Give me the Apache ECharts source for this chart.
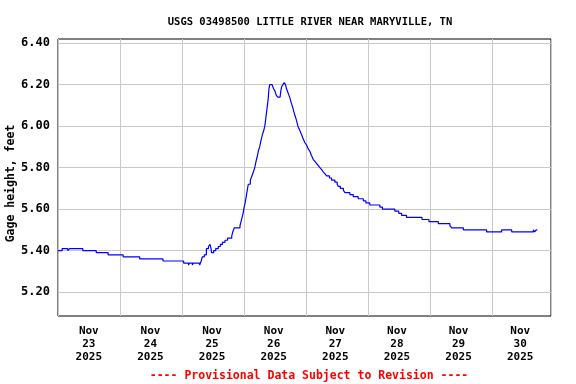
<!DOCTYPE html>
<html>
<head>
<meta charset="utf-8">
<script src="https://cdn.jsdelivr.net/npm/echarts@6/dist/echarts.min.js"></script>
<style>html,body{margin:0;padding:0;background:#fff}#c{width:576px;height:384px}</style>
</head>
<body>
<div id="c"></div>
<script>
// Hours since Nov 23 2025 00:00, and gage height (feet)
const hours = [0,1.6,3.8,4.5,9.6,14.8,19.4,25.2,31.6,40.6,48.6,50.5,50.8,52,52.3,54.8,55.4,55.8,56.6,57.4,58.2,58.8,59.2,59.4,60.2,61.0,62.0,62.8,63.6,64.6,65.6,67.2,67.6,68.2,70.4,70.8,71.2,71.6,72.0,72.4,72.8,73.2,73.6,74.4,75.0,75.6,76.1,76.6,77.0,77.5,78.0,78.5,79.1,79.6,80.0,80.4,80.7,81.0,81.3,81.6,81.9,82.8,83.4,83.9,84.4,85.0,85.9,86.2,86.5,87.0,87.5,88.0,88.4,89.0,89.6,90.3,90.8,91.2,91.7,92.2,92.8,93.5,94.2,94.8,95.5,96.1,96.8,97.4,98.0,98.7,99.4,100.0,100.7,101.3,102.0,102.6,103.3,103.9,105.0,105.8,107.1,108.0,108.4,109.2,110.4,111.0,112.9,114.2,116.1,118.1,119.1,120.6,124.5,125.5,130.3,131.8,132.9,134.8,140.8,143.5,147.1,151.6,152.3,156.8,165.8,171.6,175.5,183.9,184.4,185.0,185.4];
const gage = [5.40,5.41,5.40,5.41,5.40,5.39,5.38,5.37,5.36,5.35,5.34,5.33,5.34,5.33,5.34,5.33,5.35,5.37,5.38,5.41,5.42,5.43,5.41,5.39,5.40,5.41,5.42,5.43,5.44,5.45,5.46,5.47,5.49,5.51,5.52,5.54,5.56,5.58,5.61,5.63,5.66,5.69,5.72,5.74,5.76,5.78,5.80,5.83,5.85,5.88,5.90,5.93,5.96,5.98,6.00,6.04,6.07,6.10,6.13,6.18,6.20,6.20,6.18,6.17,6.15,6.14,6.14,6.17,6.19,6.20,6.21,6.20,6.18,6.16,6.14,6.11,6.09,6.07,6.05,6.03,6.00,5.98,5.96,5.94,5.92,5.91,5.89,5.88,5.86,5.84,5.83,5.82,5.81,5.80,5.79,5.78,5.77,5.76,5.75,5.74,5.73,5.72,5.71,5.70,5.69,5.68,5.67,5.66,5.65,5.64,5.63,5.62,5.61,5.60,5.59,5.58,5.57,5.56,5.55,5.54,5.53,5.52,5.51,5.50,5.49,5.50,5.49,5.50,5.49,5.50,5.50];
const dayLabels = ["Nov\n23\n2025","Nov\n24\n2025","Nov\n25\n2025","Nov\n26\n2025","Nov\n27\n2025","Nov\n28\n2025","Nov\n29\n2025","Nov\n30\n2025"];
const yTicks = [5.20,5.40,5.60,5.80,6.00,6.20,6.40];

const FONT = 'DejaVu Sans Mono';
const data = hours.map((h, i) => [h, gage[i]]);
const chart = echarts.init(document.getElementById('c'), null, {renderer: 'canvas'});
chart.setOption({
  animation: false,
  backgroundColor: '#fff',
  title: [
    {text: 'USGS 03498500 LITTLE RIVER NEAR MARYVILLE, TN', left: 305, top: 12, textAlign: 'center',
     textStyle: {fontFamily: FONT, fontWeight: 'bold', fontSize: 10.5, color: '#000'}},
    {text: '---- Provisional Data Subject to Revision ----', left: 304, top: 365, textAlign: 'center',
     textStyle: {fontFamily: FONT, fontWeight: 'bold', fontSize: 11.5, color: '#ff0000'}}
  ],
  grid: {left: 58, right: 25, top: 39, bottom: 68, show: true, borderColor: '#000', borderWidth: 1,
         containLabel: false, outerBoundsMode: 'none'},
  xAxis: [
    {type: 'value', min: 0, max: 190.7, interval: 24,
     axisLine: {show: false}, axisTick: {show: false}, axisLabel: {show: false},
     splitLine: {show: true, lineStyle: {color: '#c8c8c8', width: 1}}},
    {type: 'category', data: dayLabels, boundaryGap: true, position: 'bottom',
     axisLine: {show: false}, axisTick: {show: false}, splitLine: {show: false},
     axisLabel: {fontFamily: FONT, fontWeight: 'bold', fontSize: 11, color: '#000', lineHeight: 13, margin: 9}}
  ],
  yAxis: {
    type: 'value', min: 5.085, max: 6.42,
    name: 'Gage height, feet', nameLocation: 'middle', nameGap: 41, nameMoveOverlap: false,
    nameTextStyle: {fontFamily: FONT, fontWeight: 'bold', fontSize: 11.5, color: '#000', padding: [0, 12, 0, 0]},
    axisLine: {show: false},
    axisTick: {show: false, customValues: yTicks},
    axisLabel: {customValues: yTicks, formatter: v => v.toFixed(2), fontFamily: FONT, fontWeight: 'bold', fontSize: 12, color: '#000', margin: 8},
    splitLine: {show: true, lineStyle: {color: '#c8c8c8', width: 1}}
  },
  series: [{
    type: 'line', xAxisIndex: 0, data: data, step: 'end', showSymbol: false,
    lineStyle: {color: '#0000ff', width: 1.2}, itemStyle: {color: '#0000ff'}
  }]
});
</script>
</body>
</html>
